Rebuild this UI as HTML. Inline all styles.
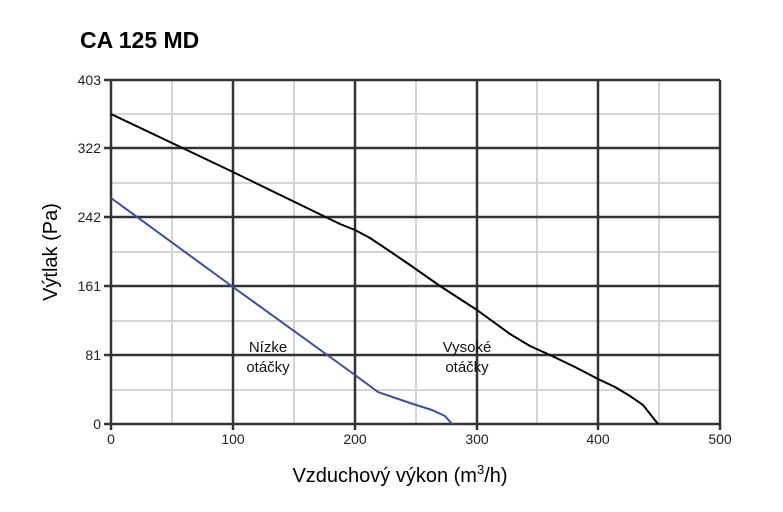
<!DOCTYPE html>
<html><head><meta charset="utf-8"><style>body{margin:0;background:#fff}svg{display:block}</style></head><body>
<svg width="783" height="512" xmlns="http://www.w3.org/2000/svg" font-family="Liberation Sans, sans-serif">
<text x="80" y="48" font-size="23" font-weight="bold">CA 125 MD</text>
<g stroke="#d4d4d4" stroke-width="2">
<line x1="172" y1="80" x2="172" y2="424"/><line x1="294" y1="80" x2="294" y2="424"/><line x1="416" y1="80" x2="416" y2="424"/><line x1="537" y1="80" x2="537" y2="424"/><line x1="659" y1="80" x2="659" y2="424"/>
<line x1="111" y1="114" x2="720" y2="114"/><line x1="111" y1="183" x2="720" y2="183"/><line x1="111" y1="252" x2="720" y2="252"/><line x1="111" y1="321" x2="720" y2="321"/><line x1="111" y1="390" x2="720" y2="390"/>
</g>
<g stroke="#333" stroke-width="2.5">
<line x1="111" y1="80" x2="111" y2="424"/><line x1="233" y1="80" x2="233" y2="424"/><line x1="355" y1="80" x2="355" y2="424"/><line x1="477" y1="80" x2="477" y2="424"/><line x1="598" y1="80" x2="598" y2="424"/><line x1="720" y1="80" x2="720" y2="424"/>
<line x1="104" y1="80" x2="720" y2="80"/><line x1="104" y1="148" x2="720" y2="148"/><line x1="104" y1="217" x2="720" y2="217"/><line x1="104" y1="286" x2="720" y2="286"/><line x1="104" y1="355" x2="720" y2="355"/><line x1="104" y1="424" x2="720" y2="424"/>
<line x1="111" y1="424" x2="111" y2="430"/><line x1="233" y1="424" x2="233" y2="430"/><line x1="355" y1="424" x2="355" y2="430"/><line x1="477" y1="424" x2="477" y2="430"/><line x1="598" y1="424" x2="598" y2="430"/><line x1="720" y1="424" x2="720" y2="430"/>
</g>
<polyline fill="none" stroke="#000" stroke-width="2" stroke-linejoin="round" points="111,114 233,172 340,224 355,230 370,238 385,248 410,265 440,286 477,310 510,334 530,346 550,355 575,367 598,379 615,387 630,396 643,405 658,424"/>
<polyline fill="none" stroke="#3a4fa0" stroke-width="2" stroke-linejoin="round" points="111,198 233,287 355,375 378,392 410,403 432,410 445,416 452,424"/>
<g font-size="14" text-anchor="end" fill="#222">
<text x="101" y="85">403</text><text x="101" y="153">322</text><text x="101" y="222">242</text><text x="101" y="291">161</text><text x="101" y="360">81</text><text x="101" y="429">0</text>
</g>
<g font-size="14" text-anchor="middle" fill="#222">
<text x="111" y="444">0</text><text x="233" y="444">100</text><text x="355" y="444">200</text><text x="477" y="444">300</text><text x="598" y="444">400</text><text x="720" y="444">500</text>
</g>
<g font-size="15" text-anchor="middle" fill="#111">
<text x="268" y="352">Nízke</text><text x="268" y="372">otáčky</text>
<text x="467" y="352">Vysoké</text><text x="467" y="372">otáčky</text>
</g>
<text x="400" y="482" font-size="20" text-anchor="middle">Vzduchový výkon (m<tspan font-size="13" dy="-8">3</tspan><tspan dy="8">/h)</tspan></text>
<text transform="translate(57,252) rotate(-90)" font-size="20" text-anchor="middle">Výtlak (Pa)</text>
</svg>
</body></html>
